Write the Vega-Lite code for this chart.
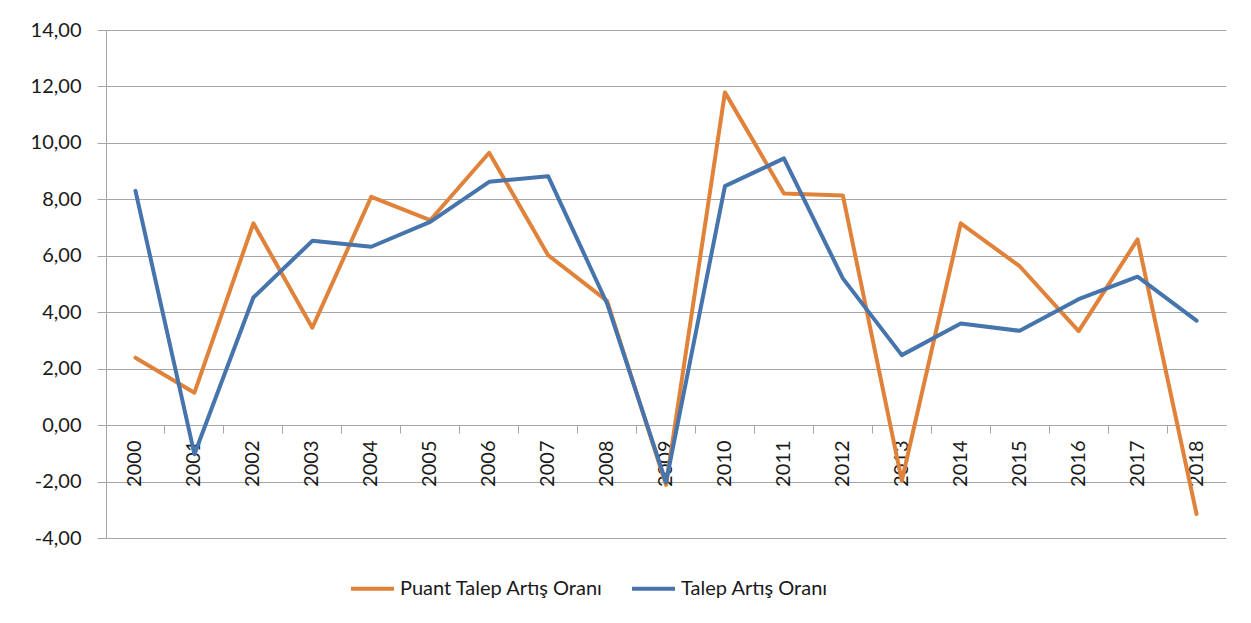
{
  "$schema": "https://vega.github.io/schema/vega-lite/v6.json",
  "width": 1120,
  "height": 508,
  "autosize": {"type": "none"},
  "padding": {"left": 106, "top": 30, "right": 25, "bottom": 85},
  "background": "white",
  "config": {"view": {"stroke": null}, "font": "Lato"},
  "data": {
    "values": [
      {"year": "2000", "series": "Puant Talep Artış Oranı", "value": 2.39},
      {"year": "2001", "series": "Puant Talep Artış Oranı", "value": 1.15},
      {"year": "2002", "series": "Puant Talep Artış Oranı", "value": 7.15},
      {"year": "2003", "series": "Puant Talep Artış Oranı", "value": 3.45},
      {"year": "2004", "series": "Puant Talep Artış Oranı", "value": 8.09},
      {"year": "2005", "series": "Puant Talep Artış Oranı", "value": 7.26},
      {"year": "2006", "series": "Puant Talep Artış Oranı", "value": 9.65},
      {"year": "2007", "series": "Puant Talep Artış Oranı", "value": 6.02},
      {"year": "2008", "series": "Puant Talep Artış Oranı", "value": 4.40},
      {"year": "2009", "series": "Puant Talep Artış Oranı", "value": -2.12},
      {"year": "2010", "series": "Puant Talep Artış Oranı", "value": 11.79},
      {"year": "2011", "series": "Puant Talep Artış Oranı", "value": 8.21},
      {"year": "2012", "series": "Puant Talep Artış Oranı", "value": 8.14},
      {"year": "2013", "series": "Puant Talep Artış Oranı", "value": -1.97},
      {"year": "2014", "series": "Puant Talep Artış Oranı", "value": 7.15},
      {"year": "2015", "series": "Puant Talep Artış Oranı", "value": 5.63},
      {"year": "2016", "series": "Puant Talep Artış Oranı", "value": 3.33},
      {"year": "2017", "series": "Puant Talep Artış Oranı", "value": 6.58},
      {"year": "2018", "series": "Puant Talep Artış Oranı", "value": -3.15},
      {"year": "2000", "series": "Talep Artış Oranı", "value": 8.30},
      {"year": "2001", "series": "Talep Artış Oranı", "value": -1.03},
      {"year": "2002", "series": "Talep Artış Oranı", "value": 4.52},
      {"year": "2003", "series": "Talep Artış Oranı", "value": 6.53},
      {"year": "2004", "series": "Talep Artış Oranı", "value": 6.32},
      {"year": "2005", "series": "Talep Artış Oranı", "value": 7.20},
      {"year": "2006", "series": "Talep Artış Oranı", "value": 8.62},
      {"year": "2007", "series": "Talep Artış Oranı", "value": 8.82},
      {"year": "2008", "series": "Talep Artış Oranı", "value": 4.31},
      {"year": "2009", "series": "Talep Artış Oranı", "value": -2.03},
      {"year": "2010", "series": "Talep Artış Oranı", "value": 8.47},
      {"year": "2011", "series": "Talep Artış Oranı", "value": 9.45},
      {"year": "2012", "series": "Talep Artış Oranı", "value": 5.20},
      {"year": "2013", "series": "Talep Artış Oranı", "value": 2.48},
      {"year": "2014", "series": "Talep Artış Oranı", "value": 3.60},
      {"year": "2015", "series": "Talep Artış Oranı", "value": 3.34},
      {"year": "2016", "series": "Talep Artış Oranı", "value": 4.46},
      {"year": "2017", "series": "Talep Artış Oranı", "value": 5.26},
      {"year": "2018", "series": "Talep Artış Oranı", "value": 3.70}
    ]
  },
  "mark": {"type": "line", "strokeWidth": 4, "strokeCap": "round", "strokeJoin": "round"},
  "encoding": {
    "x": {
      "field": "year",
      "type": "ordinal",
      "bandPosition": 0.5,
      "scale": {"type": "band", "paddingInner": 0, "paddingOuter": 0},
      "axis": {
        "title": null,
        "orient": "bottom",
        "offset": -113,
        "bandPosition": 0,
        "grid": false,
        "labelAngle": -90,
        "labelAlign": "right",
        "labelBaseline": "middle",
        "labelPadding": 7,
        "tickSize": 8,
        "tickColor": "#a6a6a6",
        "domainColor": "#a6a6a6",
        "labelFont": "Lato",
        "labelFontSize": 20,
        "labelColor": "#1a1a1a",
        "zindex": 0
      }
    },
    "y": {
      "field": "value",
      "type": "quantitative",
      "scale": {"domain": [-4, 14], "nice": false, "zero": false},
      "axis": {
        "title": null,
        "values": [-4, -2, 0, 2, 4, 6, 8, 10, 12, 14],
        "labelExpr": "replace(replace(format(datum.value, '.2f'), '.', ','), '\u2212', '-')",
        "tickSize": 9,
        "labelPadding": 16,
        "grid": true,
        "gridColor": "#a6a6a6",
        "domainColor": "#a6a6a6",
        "tickColor": "#a6a6a6",
        "labelFont": "Lato",
        "labelFontSize": 20,
        "labelColor": "#1a1a1a",
        "zindex": 0
      }
    },
    "color": {
      "field": "series",
      "type": "nominal",
      "scale": {
        "domain": ["Puant Talep Artış Oranı", "Talep Artış Oranı"],
        "range": ["#E0823A", "#4674AC"]
      },
      "legend": {
        "title": null,
        "orient": "none",
        "legendX": 243,
        "legendY": 535,
        "direction": "horizontal",
        "columns": 2,
        "symbolType": "stroke",
        "symbolSize": 1849,
        "symbolStrokeWidth": 4,
        "labelFont": "Lato",
        "labelFontSize": 20,
        "labelColor": "#1a1a1a",
        "labelOffset": 4,
        "labelLimit": 400,
        "columnPadding": 20
      }
    }
  }
}
